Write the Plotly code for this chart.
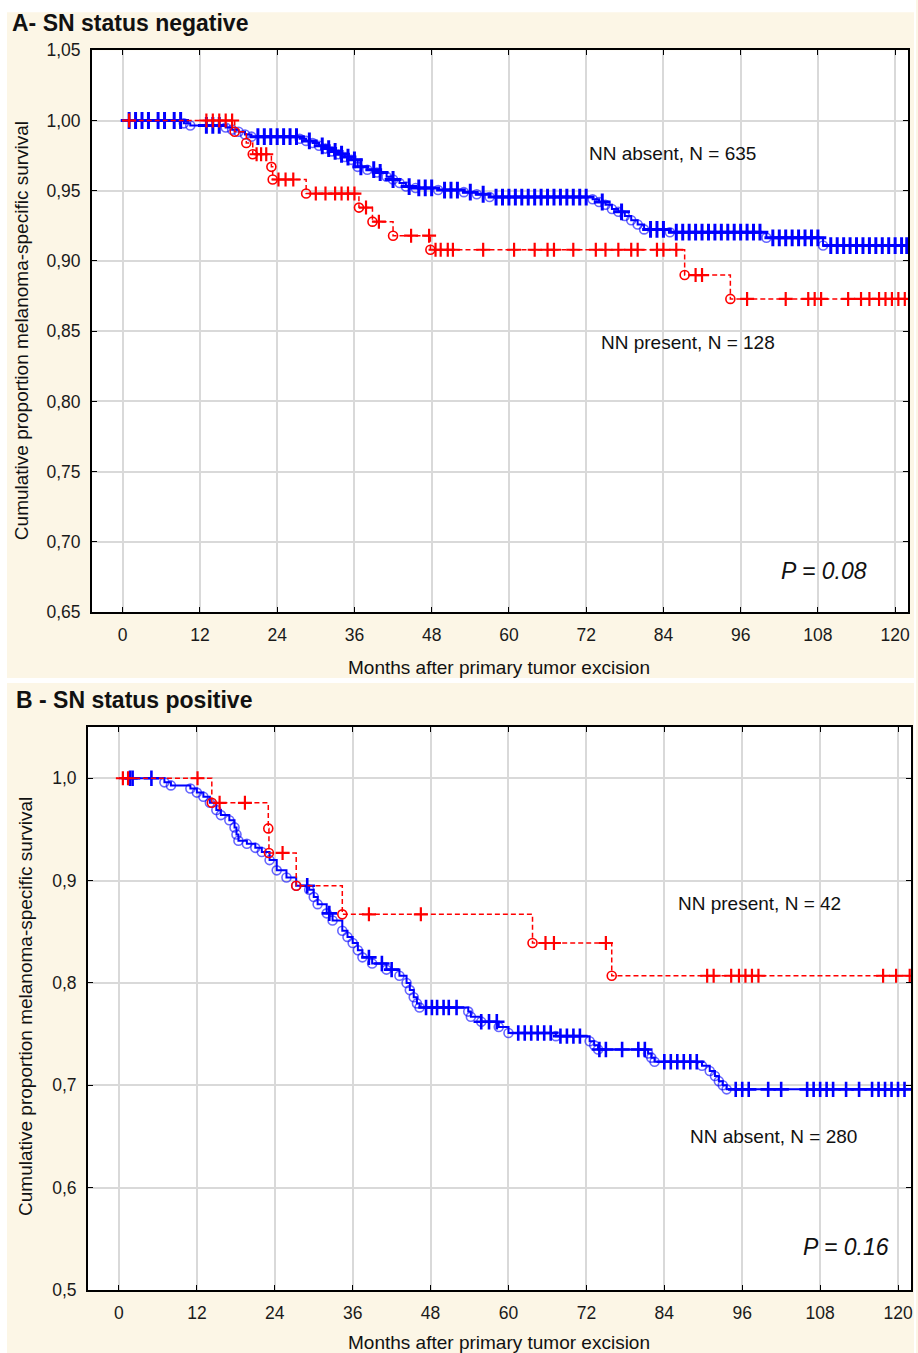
import plotly.graph_objects as go

W, H = 918, 1353

# ---------------- DATA ----------------
x_ticks = [0, 12, 24, 36, 48, 60, 72, 84, 96, 108, 120]
yA_ticks = [0.65, 0.70, 0.75, 0.80, 0.85, 0.90, 0.95, 1.00, 1.05]
yA_text = ["0,65", "0,70", "0,75", "0,80", "0,85", "0,90", "0,95", "1,00", "1,05"]
yB_ticks = [0.5, 0.6, 0.7, 0.8, 0.9, 1.0]
yB_text = ["0,5", "0,6", "0,7", "0,8", "0,9", "1,0"]

# Panel A - NN absent (N = 635): event times / survival after event
A_abs_t = [9.5, 10.5, 16, 17, 18, 19, 20, 27.5, 28.5, 29.5, 30.5, 31.5, 32.5, 33.5,
           34.5, 35.5, 36.5, 38, 39.5, 41, 42, 43, 44, 45.5, 49, 53, 55, 57, 73, 74,
           75, 76, 77, 78, 79, 80, 81, 85, 100, 108.8]
A_abs_s = [0.998, 0.9965, 0.995, 0.9935, 0.992, 0.990, 0.9885, 0.987, 0.9855, 0.984,
           0.982, 0.980, 0.978, 0.976, 0.974, 0.972, 0.967, 0.965, 0.963, 0.960, 0.958,
           0.9555, 0.953, 0.952, 0.9505, 0.949, 0.9475, 0.9455, 0.944, 0.942, 0.940,
           0.937, 0.935, 0.932, 0.929, 0.926, 0.9225, 0.9205, 0.9165, 0.911]
A_abs_cens = [1, 2, 3, 4, 5.5, 6.5, 8, 9, 13, 14, 15, 21, 22, 23, 24, 25, 26, 27, 29,
              31, 32, 33, 34, 35, 36, 37, 39, 40, 42, 44.5, 46, 47, 48, 50, 51, 52, 54,
              56, 58, 59, 60, 61, 62, 63, 64, 65, 66, 67, 68, 69, 70, 71, 72, 74.5,
              77.5, 82, 83, 84, 86, 87, 88, 89, 90, 91, 92, 93, 94, 95, 96, 97, 98, 99,
              101, 102, 103, 104, 105, 106, 107, 108, 110, 111, 112, 113, 114, 115,
              116, 117, 118, 119, 120, 121, 121.8]
A_abs_end = 122

# Panel A - NN present (N = 128)
A_pre_t = [17.4, 19.2, 20.2, 23.1, 23.3, 28.5, 36.7, 38.8, 42, 47.8, 87.3, 94.4]
A_pre_s = [0.992, 0.984, 0.976, 0.967, 0.958, 0.948, 0.938, 0.928, 0.918, 0.908,
           0.890, 0.873]
A_pre_cens = [1, 13, 14, 15, 16, 17, 20.8, 21.5, 22.3, 24.2, 25.3, 26.5, 30, 31.5, 33,
              34, 35, 36, 37.8, 39.8, 44.8, 47.6, 48.6, 49.4, 50.5, 51.3, 56, 60.8, 64,
              66, 67, 70, 73.5, 75, 77, 79, 80, 83, 84, 86, 89, 90, 97, 103, 106.5,
              107.5, 108.5, 112.7, 114.7, 116, 117.5, 118.5, 119.5, 120.5, 121.5]
A_pre_end = 121.8

# Panel B - NN absent (N = 280)
B_abs_t = [7, 8, 11, 12, 13, 14, 15, 15.7, 17, 17.8, 18.1, 18.4, 19.7, 21, 22, 23.2,
           24.3, 25.8, 27.3, 29.3, 30, 30.6, 32, 32.9, 34.4, 35.2, 36, 36.8, 37.5, 39,
           41.2, 43.2, 44.3, 44.8, 45.4, 45.9, 46.3, 53.8, 54.2, 55.8, 58.5, 60, 67.3,
           72.5, 73.2, 73.8, 81.5, 82, 82.5, 89.8, 91, 91.8, 92.4, 93, 93.6]
B_abs_s = [0.996, 0.993, 0.990, 0.986, 0.982, 0.976, 0.969, 0.964, 0.959, 0.952, 0.945,
           0.939, 0.936, 0.932, 0.928, 0.920, 0.910, 0.903, 0.895, 0.891, 0.884, 0.877,
           0.868, 0.861, 0.851, 0.845, 0.839, 0.832, 0.825, 0.819, 0.813, 0.807, 0.800,
           0.793, 0.786, 0.780, 0.776, 0.772, 0.767, 0.762, 0.757, 0.751, 0.748, 0.743,
           0.739, 0.735, 0.731, 0.727, 0.723, 0.719, 0.714, 0.709, 0.704, 0.700, 0.696]
B_abs_cens = [1.7, 2.1, 5, 29, 32.4, 38.5, 40.5, 42, 47.3, 48.2, 49, 50, 50.8, 52,
              55.8, 57, 58.2, 61.5, 62.5, 63.5, 64.5, 65.5, 66.5, 68, 69, 70, 71, 74,
              75, 77.5, 80, 81, 84, 85, 86, 87, 88, 89, 95, 96, 97, 100, 102, 106, 107,
              108, 109, 110, 112, 114, 116, 117, 118, 119, 120, 121]
B_abs_end = 122

# Panel B - NN present (N = 42)
B_pre_t = [14.3, 23.0, 23.1, 27.3, 34.4, 63.7, 75.9]
B_pre_s = [0.976, 0.951, 0.927, 0.895, 0.867, 0.839, 0.807]
B_pre_cens = [0.6, 1.4, 12.1, 15.5, 19.4, 25.2, 38.5, 46.5, 65.7, 67, 75, 90.6, 91.6,
              94.3, 95.5, 96.5, 97.5, 98.5, 117.7, 119.7, 121.8]
B_pre_end = 122

BLUE = "#0000ff"
RED = "#ff0000"
CREAM = "#fcf6e6"
FONT = "Arial, Liberation Sans, sans-serif"


def surv_at(t, ev_t, ev_s):
    s = 1.0
    for et, es in zip(ev_t, ev_s):
        if et <= t:
            s = es
    return s


def px(x):
    return x / W


def py(y):
    # compensate the vertical offset/scale observed in the rendered page
    yi = (y - 9.7) / 0.9855
    return 1 - yi / H


fig = go.Figure()


def add_curve(ev_t, ev_s, cens, end, color, dash, width, xa, ya, opacity_ev, csize, cwidth):
    xs = [0] + ev_t + [end]
    ys = [1.0] + ev_s + [ev_s[-1]]
    fig.add_trace(go.Scatter(x=xs, y=ys, mode="lines", line=dict(color=color, width=width, dash=dash, shape="hv"),
                             xaxis=xa, yaxis=ya, showlegend=False, hoverinfo="skip"))
    fig.add_trace(go.Scatter(x=ev_t, y=ev_s, mode="markers",
                             marker=dict(symbol="circle-open", size=9, color=color, opacity=opacity_ev,
                                         line=dict(width=1.6, color=color)),
                             xaxis=xa, yaxis=ya, showlegend=False, hoverinfo="skip"))
    fig.add_trace(go.Scatter(x=cens, y=[surv_at(c, ev_t, ev_s) for c in cens], mode="markers",
                             marker=dict(symbol="cross-thin", size=csize, color=color,
                                         line=dict(width=cwidth, color=color)),
                             xaxis=xa, yaxis=ya, showlegend=False, hoverinfo="skip"))


add_curve(A_abs_t, A_abs_s, A_abs_cens, A_abs_end, BLUE, "solid", 2, "x", "y", 0.6, 12, 3)
add_curve(A_pre_t, A_pre_s, A_pre_cens, A_pre_end, RED, "5px,3px", 1.5, "x", "y", 1, 10, 2.2)
add_curve(B_abs_t, B_abs_s, B_abs_cens, B_abs_end, BLUE, "solid", 2, "x2", "y2", 0.6, 11, 2.6)
add_curve(B_pre_t, B_pre_s, B_pre_cens, B_pre_end, RED, "5px,3px", 1.5, "x2", "y2", 1, 10, 2.2)

# panel geometry (pixels in the reference picture)
A_box = (92, 910, 50, 612)
B_box = (88, 913, 727, 1290)

axis_common = dict(showline=True, linecolor="black", linewidth=1.5, mirror="ticks",
                   ticks="inside", ticklen=5, tickcolor="black",
                   showgrid=True, gridcolor="#d9d9d9", gridwidth=1.5, zeroline=False,
                   tickfont=dict(family=FONT, size=17.5, color="#1a1a1a"))

fig.update_layout(
    width=W, height=H, margin=dict(l=0, r=0, t=0, b=0),
    paper_bgcolor=CREAM, plot_bgcolor="white",
    xaxis=dict(domain=[px(A_box[0]), px(A_box[1])], range=[-4.8, 122], anchor="y",
               tickvals=x_ticks, ticklabelstandoff=6, **axis_common),
    yaxis=dict(domain=[py(A_box[3]), py(A_box[2])], range=[0.65, 1.05], anchor="x",
               tickvals=yA_ticks, ticktext=yA_text, ticklabelstandoff=6, **axis_common),
    xaxis2=dict(domain=[px(B_box[0]), px(B_box[1])], range=[-4.8, 122], anchor="y2",
                tickvals=x_ticks, ticklabelstandoff=6, **axis_common),
    yaxis2=dict(domain=[py(B_box[3]), py(B_box[2])], range=[0.5, 1.05], anchor="x2",
                tickvals=yB_ticks, ticktext=yB_text, ticklabelstandoff=6, **axis_common),
)

# white page margins around the two cream panels
for (x0, x1, y0, y1) in [(0, 1, py(12), 1.01), (0, 1, py(683), py(678)),
                         (0, px(7), -0.01, 1.01), (px(916), 1, -0.01, 1.01)]:
    fig.add_shape(type="rect", xref="paper", yref="paper", x0=x0, x1=x1, y0=y0, y1=y1,
                  fillcolor="white", line=dict(width=0), layer="below")

ann = []


def text(x, y, s, size, xanchor="center", yanchor="middle", bold=False, italic=False, angle=0):
    if bold:
        s = "<b>" + s + "</b>"
    if italic:
        s = "<i>" + s + "</i>"
    ann.append(dict(x=px(x), y=py(y), xref="paper", yref="paper", text=s, showarrow=False,
                    xanchor=xanchor, yanchor=yanchor, textangle=angle,
                    font=dict(family=FONT, size=size, color="#111111")))


text(10, 23, "A- SN status negative", 23, xanchor="left", bold=True)
text(14, 700, "B - SN status positive", 23, xanchor="left", bold=True)
text(500, 667, "Months after primary tumor excision", 19)
text(500, 1343, "Months after primary tumor excision", 19)
text(21, 330, "Cumulative proportion melanoma-specific survival", 19, angle=-90)
text(25, 1006, "Cumulative proportion melanoma-specific survival", 19, angle=-90)
text(674, 153, "NN absent, N = 635", 19)
text(690, 342, "NN present, N = 128", 19)
text(826, 571, "P = 0.08", 23, italic=True)
text(761, 903, "NN present, N = 42", 19)
text(775, 1137, "NN absent, N = 280", 19)
text(848, 1247, "P = 0.16", 23, italic=True)
fig.update_layout(annotations=ann)

fig.write_html(
    "out.html",
    config={"displayModeBar": False},
    post_script=(
        "document.documentElement.style.margin='0';document.documentElement.style.overflow='hidden';"
        "document.body.style.margin='0';document.body.style.padding='0';document.body.style.overflow='hidden';"
        "document.body.style.background='linear-gradient(to bottom, #ffffff 0px, #ffffff 12px, " + CREAM + " 12px)';"
        "var g=document.getElementById('{plot_id}');g.style.position='fixed';g.style.top='0px';g.style.left='0px';"
    ),
)
